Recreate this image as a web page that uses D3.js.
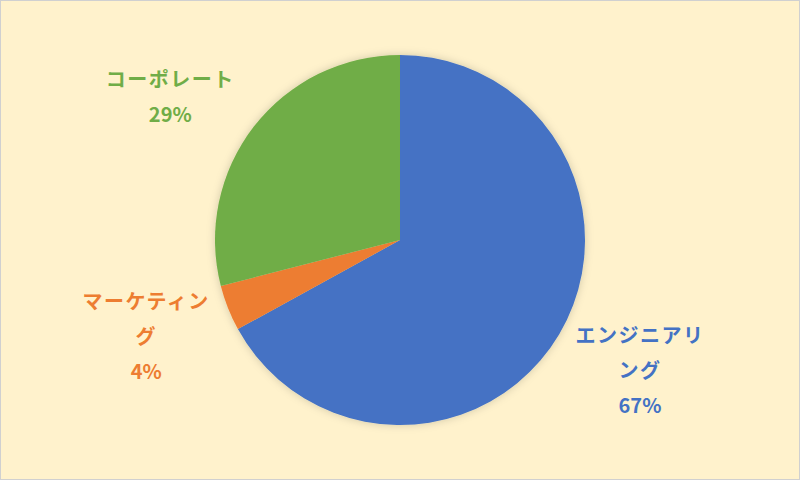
<!DOCTYPE html>
<html>
<head>
<meta charset="utf-8">
<script src="https://cdn.jsdelivr.net/npm/d3@7"></script>
<style>
  body { margin: 0; background: #fff; }
  svg { display: block; }
</style>
</head>
<body>
<div id="chart"></div>
<script>
const categories = ["エンジニアリング", "マーケティング", "コーポレート"];
const values = [67, 4, 29];
const colors = ["#4472C4", "#ED7D31", "#70AD47"];

const width = 800, height = 480;
const cx = 400, cy = 240, radius = 185, labelRadius = 273;
// small per-label nudges, like the chart's best-fit placement
const nudge = [[5, -8], [0, -3], [-14, 25]];

const svg = d3.select("#chart")
  .append("svg")
  .attr("width", width)
  .attr("height", height);

svg.append("rect")
  .attr("x", 0.5).attr("y", 0.5)
  .attr("width", width - 1).attr("height", height - 1)
  .attr("fill", "#FFF2CC")
  .attr("stroke", "#D0D0D0");

const defs = svg.append("defs");
const f = defs.append("filter").attr("id", "shadow")
  .attr("x", "-20%").attr("y", "-20%").attr("width", "140%").attr("height", "140%");
f.append("feDropShadow")
  .attr("dx", 0).attr("dy", 0).attr("stdDeviation", 4)
  .attr("flood-color", "#000").attr("flood-opacity", 0.18);

const data = categories.map((c, i) => ({name: c, value: values[i], color: colors[i]}));

const pie = d3.pie().sort(null).value(d => d.value);
const arc = d3.arc().innerRadius(0).outerRadius(radius);
const labelArc = d3.arc().innerRadius(labelRadius).outerRadius(labelRadius);

const g = svg.append("g").attr("transform", "translate(" + cx + "," + cy + ")");

g.append("g").attr("filter", "url(#shadow)")
  .selectAll("path")
  .data(pie(data))
  .enter()
  .append("path")
  .attr("d", arc)
  .attr("fill", d => d.data.color);

// wrap label at 6 characters per line, then the percentage
function lines(d) {
  const out = [];
  const s = d.data.name;
  for (let i = 0; i < s.length; i += 6) out.push(s.slice(i, i + 6));
  out.push(d.data.value + "%");
  return out;
}

const lineH = 35;
const labels = g.selectAll(".lbl")
  .data(pie(data))
  .enter()
  .append("text")
  .attr("class", "lbl")
  .attr("text-anchor", "middle")
  .style("font-family", "'Noto Sans CJK JP', 'Noto Sans', sans-serif")
  .style("font-size", "20px")
  .style("font-weight", "bold")
  .attr("fill", d => d.data.color)
  .attr("transform", (d, i) => {
    const c = labelArc.centroid(d);
    return "translate(" + (c[0] + nudge[i][0]) + "," + (c[1] + nudge[i][1]) + ")";
  });

labels.each(function(d) {
  const ls = lines(d);
  const t = d3.select(this);
  const top = -(ls.length - 1) * lineH / 2;
  ls.forEach((l, i) => {
    const last = i === ls.length - 1;
    t.append("tspan")
      .attr("x", 0)
      .attr("y", top + i * lineH)
      .attr("dy", "0.35em")
      .style("letter-spacing", last ? "0px" : "1.5px")
      .text(l);
  });
});
</script>
</body>
</html>
